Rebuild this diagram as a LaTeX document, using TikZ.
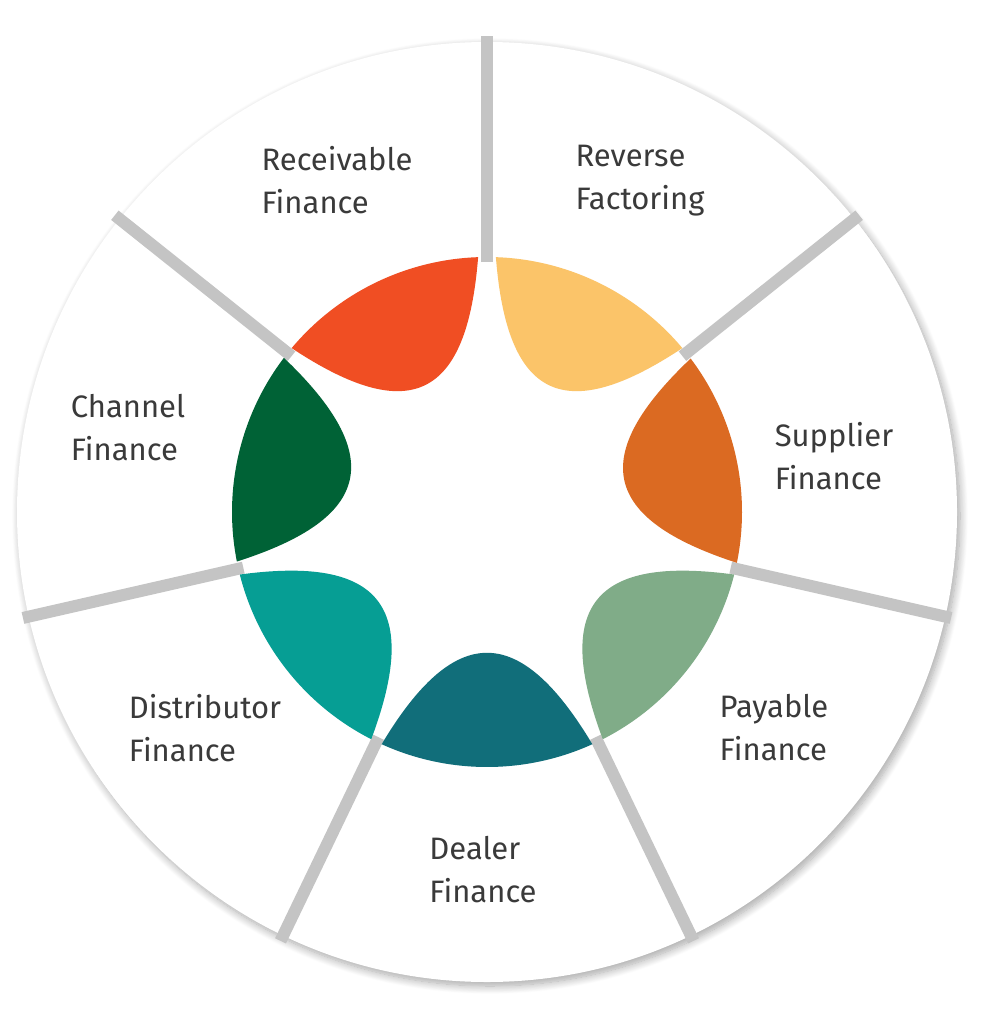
\documentclass[tikz,border=0pt]{standalone}
\usepackage{fontspec}
\setmainfont{Fira Sans}
\usetikzlibrary{calc,shadows.blur}
\definecolor{cRec}{HTML}{F04E23}
\definecolor{cRev}{HTML}{FBC469}
\definecolor{cSup}{HTML}{DB6A22}
\definecolor{cPay}{HTML}{80AC88}
\definecolor{cDea}{HTML}{116E7A}
\definecolor{cDis}{HTML}{069E94}
\definecolor{cCha}{HTML}{006236}
\definecolor{divgray}{HTML}{C4C4C4}
\definecolor{txt}{HTML}{3A3A3A}
\tikzset{lbl/.style={align=left,anchor=center,text=txt,font=\fontsize{31}{43}\selectfont},
divider/.style={draw=divgray,line width=12pt}}
\newcommand{\petal}[3]{%
\fill[#3] ($(c)+(#1:255pt)$) arc[start angle=#1,end angle=#2,radius=255pt]
 .. controls ($(c)+(#2-8:115pt)$) and ($(c)+(#1+8:115pt)$) .. cycle;}
\begin{document}
\begin{tikzpicture}[x=1pt,y=1pt]
\useasboundingbox (0,0) rectangle (980,-1024);
\coordinate (c) at (487,-512);
\fill[white,blur shadow={shadow blur steps=12,shadow xshift=3pt,shadow yshift=-4pt,shadow blur radius=8pt,shadow opacity=35}] (c) circle[radius=470pt];
\foreach \a in {90,38.57,-12.86,-64.29,-115.71,-167.14,141.43}
  \draw[divider] ($(c)+(\a:250pt)$) -- ($(c)+(\a:476pt)$);
\petal{92}{140}{cRec}
\petal{40}{88}{cRev}
\petal{-11.5}{37}{cSup}
\petal{-63}{-14.2}{cPay}
\petal{-114.4}{-65.6}{cDea}
\petal{-165.8}{-117}{cDis}
\petal{142.8}{191.2}{cCha}
\node[lbl] (rec) at (337,-180) {Receivable\\Finance};
\node[lbl] (rev) at (640,-181) {Reverse\\Factoring};
\node[lbl] (sup) at (834,-456) {Supplier\\Finance};
\node[lbl] (pay) at (774,-728) {Payable\\Finance};
\node[lbl] (dea) at (483,-870) {Dealer\\Finance};
\node[lbl] (dis) at (205,-728) {Distributor\\Finance};
\node[lbl] (cha) at (128,-428) {Channel\\Finance};
\end{tikzpicture}
\end{document}
